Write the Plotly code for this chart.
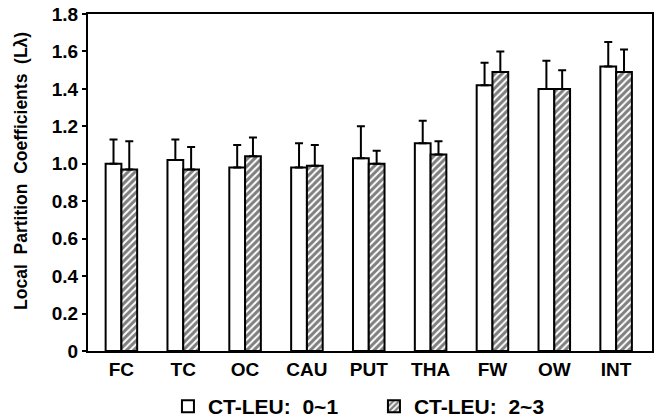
import plotly.graph_objects as go

categories = ["FC", "TC", "OC", "CAU", "PUT", "THA", "FW", "OW", "INT"]
low_vals = [1.00, 1.02, 0.98, 0.98, 1.03, 1.11, 1.42, 1.40, 1.52]
low_err = [0.13, 0.11, 0.12, 0.13, 0.17, 0.12, 0.12, 0.15, 0.13]
high_vals = [0.97, 0.97, 1.04, 0.99, 1.00, 1.05, 1.49, 1.40, 1.49]
high_err = [0.15, 0.12, 0.10, 0.11, 0.07, 0.07, 0.11, 0.10, 0.12]
y_ticks = [0, 0.2, 0.4, 0.6, 0.8, 1.0, 1.2, 1.4, 1.6, 1.8]
y_tick_text = ["0", "0.2", "0.4", "0.6", "0.8", "1.0", "1.2", "1.4", "1.6", "1.8"]
y_title = "Local  Partition  Coefficients  (Lλ)"

font_family = "Liberation Sans, Arial, sans-serif"

fig = go.Figure()
fig.add_trace(go.Bar(
    x=categories, y=low_vals, name="<b>CT-LEU:  0~1</b>",
    marker=dict(color="white", line=dict(color="black", width=2)),
    error_y=dict(type="data", array=low_err, arrayminus=[0] * len(low_err), symmetric=False,
                 color="black", thickness=2, width=4),
))
fig.add_trace(go.Bar(
    x=categories, y=high_vals, name="<b>CT-LEU:  2~3</b>",
    marker=dict(color="white", line=dict(color="black", width=2),
                pattern=dict(shape="/", fgcolor="black", bgcolor="white", size=5, solidity=0.6)),
    error_y=dict(type="data", array=high_err, arrayminus=[0] * len(high_err), symmetric=False,
                 color="black", thickness=2, width=4),
))

fig.add_annotation(
    text="<b>" + y_title + "</b>", textangle=-90,
    xref="paper", yref="paper", x=-0.119, y=0.534, xanchor="center", yanchor="middle",
    showarrow=False, font=dict(size=17.5, family=font_family, color="black"),
)

fig.update_layout(
    width=655, height=419,
    margin=dict(l=88, r=3, t=14, b=68, autoexpand=False),
    paper_bgcolor="white", plot_bgcolor="white",
    barmode="group", bargap=0.49, bargroupgap=0,
    font=dict(family=font_family, color="black"),
    showlegend=True,
    legend=dict(orientation="h", x=0.507, xanchor="center", y=-0.104, yanchor="top",
                font=dict(size=21, family=font_family, color="black"),
                entrywidth=161, itemwidth=30),
    xaxis=dict(range=[-0.54, 8.58], showline=True, linecolor="black", linewidth=2,
               mirror=True, ticks="", tickfont=dict(size=19, family=font_family),
               tickprefix="<b>", ticksuffix="</b>", showgrid=False, zeroline=False,
               automargin=False),
    yaxis=dict(range=[0, 1.8], tickvals=y_ticks, ticktext=["<b>" + t + "</b>" for t in y_tick_text],
               showline=True, linecolor="black", linewidth=2, mirror=True,
               ticks="outside", ticklen=4, tickwidth=2, tickcolor="black",
               tickfont=dict(size=19, family=font_family), showgrid=False, zeroline=False,
               automargin=False),
)

fig.write_html("out.html", config={"displayModeBar": False},
               post_script="document.body.style.margin='0';document.body.style.padding='0';")
